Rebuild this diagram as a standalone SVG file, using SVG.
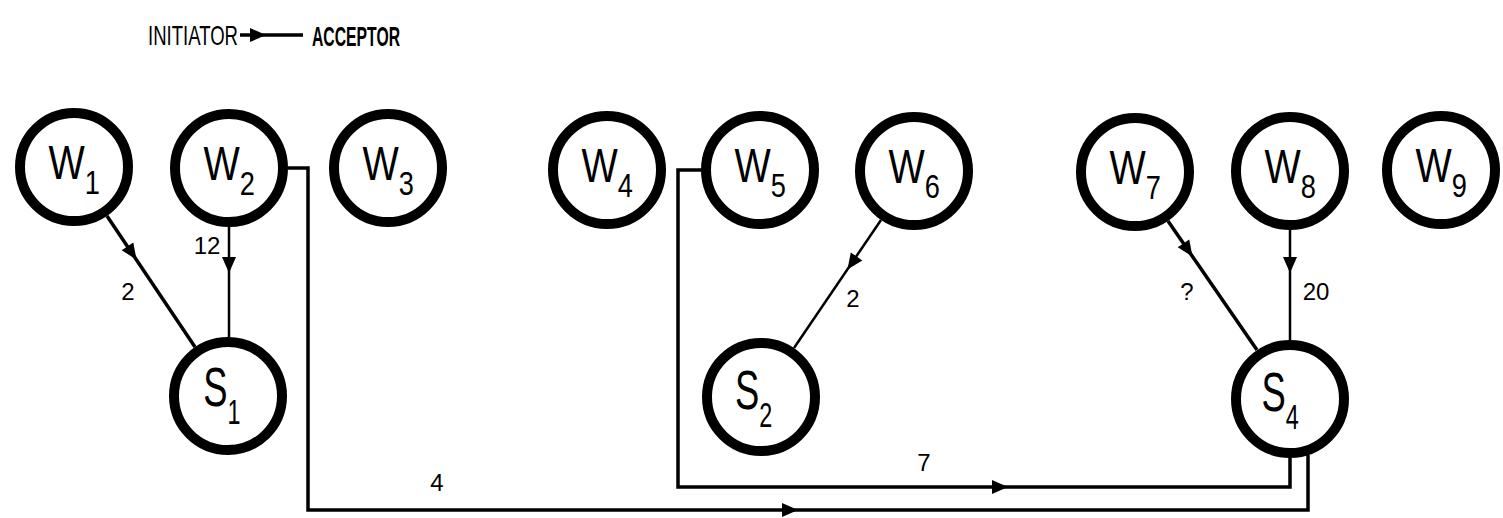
<svg xmlns="http://www.w3.org/2000/svg" xmlns:xlink="http://www.w3.org/1999/xlink" width="1503" height="518" viewBox="0 0 1503 518">
<style>
.node circle{fill:#fff;stroke:#000;stroke-width:10}
.lbl{font-family:"Liberation Sans",Arial,sans-serif;font-size:48px;fill:#000}
.sub{font-size:34px}
.slbl{font-family:"Liberation Sans",Arial,sans-serif;font-size:56px;fill:#000}
.ssub{font-size:36px}
.edge{fill:none;stroke:#000;stroke-width:2.5}
.thick{stroke-width:3.5}
.wt{font-family:"Liberation Sans",Arial,sans-serif;font-size:24px;fill:#000;text-anchor:middle}
.legend{font-family:"Liberation Sans",Arial,sans-serif;font-size:28px;fill:#000}
</style>
<defs>
<path id="ah" d="M8,0 L-8,-7 L-8,7 Z" fill="#000"/>
</defs>
<rect width="1503" height="518" fill="#fff"/>
<g id="legend">
<text class="legend" x="148" y="45" textLength="90" lengthAdjust="spacingAndGlyphs">INITIATOR</text>
<line x1="240" y1="35" x2="303" y2="35" stroke="#000" stroke-width="3.5"/>
<use xlink:href="#ah" transform="translate(258,35)"/>
<text class="legend" x="312" y="46" font-weight="bold" textLength="88" lengthAdjust="spacingAndGlyphs">ACCEPTOR</text>
</g>
<g id="connectors">
<path class="edge thick" d="M107,216 L195,347"/>
<use xlink:href="#ah" transform="translate(132,253) rotate(56)"/>
<path class="edge" d="M229,227 V337"/>
<use xlink:href="#ah" transform="translate(229,265) rotate(90)"/>
<path class="edge thick" d="M288,168 H308 V510 H1308 V455"/>
<use xlink:href="#ah" transform="translate(790,510)"/>
<path class="edge thick" d="M701,170 H678 V487 H1290 V458"/>
<use xlink:href="#ah" transform="translate(1000,487)"/>
<path class="edge" d="M881,220 L794,348"/>
<use xlink:href="#ah" transform="translate(852,263) rotate(124.7)"/>
<path class="edge thick" d="M1168,221 L1257,350"/>
<use xlink:href="#ah" transform="translate(1188,250) rotate(55.5)"/>
<path class="edge" d="M1290,230 V340"/>
<use xlink:href="#ah" transform="translate(1290,265) rotate(90)"/>
<text class="wt" x="128" y="300">2</text>
<text class="wt" x="207" y="254">12</text>
<text class="wt" x="437" y="491">4</text>
<text class="wt" x="924" y="471">7</text>
<text class="wt" x="853" y="307">2</text>
<text class="wt" x="1187" y="300">?</text>
<text class="wt" x="1316" y="300" font-size="28">20</text>
</g>
<g id="W1" class="node" transform="translate(74,167)"><circle r="54"/><text class="lbl" transform="scale(0.8,1)" x="-32" y="12">W<tspan class="sub" dy="15">1</tspan></text></g>
<g id="W2" class="node" transform="translate(229,168)"><circle r="54"/><text class="lbl" transform="scale(0.8,1)" x="-32" y="12">W<tspan class="sub" dy="15">2</tspan></text></g>
<g id="W3" class="node" transform="translate(388,168)"><circle r="54"/><text class="lbl" transform="scale(0.8,1)" x="-32" y="12">W<tspan class="sub" dy="15">3</tspan></text></g>
<g id="W4" class="node" transform="translate(607,170)"><circle r="54"/><text class="lbl" transform="scale(0.8,1)" x="-32" y="12">W<tspan class="sub" dy="15">4</tspan></text></g>
<g id="W5" class="node" transform="translate(760,170)"><circle r="54"/><text class="lbl" transform="scale(0.8,1)" x="-32" y="12">W<tspan class="sub" dy="15">5</tspan></text></g>
<g id="W6" class="node" transform="translate(914,171)"><circle r="54"/><text class="lbl" transform="scale(0.8,1)" x="-32" y="12">W<tspan class="sub" dy="15">6</tspan></text></g>
<g id="W7" class="node" transform="translate(1135,172)"><circle r="54"/><text class="lbl" transform="scale(0.8,1)" x="-32" y="12">W<tspan class="sub" dy="15">7</tspan></text></g>
<g id="W8" class="node" transform="translate(1290,171)"><circle r="54"/><text class="lbl" transform="scale(0.8,1)" x="-32" y="12">W<tspan class="sub" dy="15">8</tspan></text></g>
<g id="W9" class="node" transform="translate(1441,170)"><circle r="54"/><text class="lbl" transform="scale(0.8,1)" x="-32" y="12">W<tspan class="sub" dy="15">9</tspan></text></g>
<g id="S1" class="node" transform="translate(228,396)"><circle r="54"/><text class="slbl" transform="scale(0.65,1)" x="-38" y="10">S<tspan class="ssub" dy="18">1</tspan></text></g>
<g id="S2" class="node" transform="translate(761,397)"><circle r="54"/><text class="slbl" transform="scale(0.65,1)" x="-40" y="12">S<tspan class="ssub" dy="18">2</tspan></text></g>
<g id="S4" class="node" transform="translate(1290,399)"><circle r="54"/><text class="slbl" transform="scale(0.65,1)" x="-44" y="12">S<tspan class="ssub" dy="18">4</tspan></text></g>
</svg>
